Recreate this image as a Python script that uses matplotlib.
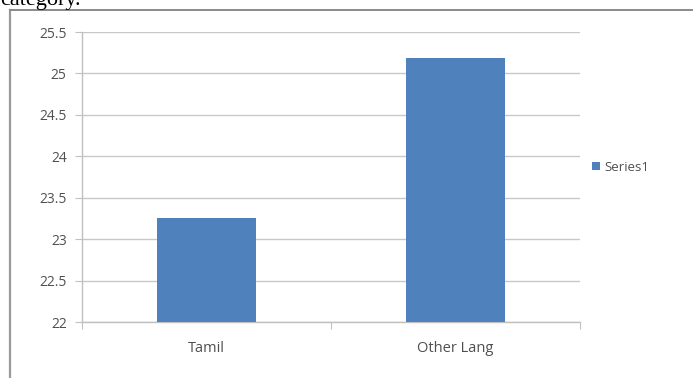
import matplotlib.pyplot as plt
from matplotlib.lines import Line2D

categories = ["Tamil", "Other Lang"]
values = [23.26, 25.19]
series_name = "Series1"
y_ticks = [22, 22.5, 23, 23.5, 24, 24.5, 25, 25.5]

W, H = 693, 378
fig = plt.figure(figsize=(W / 100, H / 100), dpi=100)
fig.patch.set_facecolor("white")

# page frame + caption text from the document above the chart (clipped like the screenshot)
fig.add_artist(Line2D([10 / W, 10 / W], [0, 1 - 10 / H], transform=fig.transFigure,
                      color="#9a9a9a", lw=1.6))
fig.add_artist(Line2D([10 / W, 1], [1 - 10 / H, 1 - 10 / H], transform=fig.transFigure,
                      color="#8a8a8a", lw=1.4))
fig.text(0 / W, 1 - 5 / H, "category.", family="Liberation Serif", fontsize=16,
         color="black", va="baseline", ha="left")

ax = fig.add_axes([82 / W, 1 - 322 / H, (580 - 82) / W, (322 - 32) / H])
x = range(len(categories))
ax.bar(x, values, width=0.4, color="#4F81BD", label=series_name, zorder=3)

ax.set_ylim(22, 25.5)
ax.set_xlim(-0.5, len(categories) - 0.5)
ax.set_yticks(y_ticks)
ax.set_yticklabels([f"{t:g}" for t in y_ticks])
ax.set_xticks([-0.5, 0.5, 1.5], minor=False)
ax.set_xticklabels([])
ax.set_xticks(list(x), minor=True)
ax.set_xticklabels(categories, minor=True)

ax.grid(axis="y", color="#c8c8c8", lw=1.0, zorder=0)
for s in ["top", "right"]:
    ax.spines[s].set_visible(False)
for s in ["left", "bottom"]:
    ax.spines[s].set_color("#c0c0c0")
    ax.spines[s].set_linewidth(1.0)

ax.tick_params(axis="y", which="major", length=5, color="#c0c0c0", labelsize=10,
               labelcolor="#505050", pad=6)
ax.tick_params(axis="x", which="major", length=5, color="#c0c0c0")
ax.tick_params(axis="x", which="minor", length=0, labelsize=10.5, labelcolor="#505050", pad=14)
for lbl in ax.get_yticklabels() + ax.get_xticklabels(minor=True):
    lbl.set_family("Open Sans")

ax.legend(loc="center left", bbox_to_anchor=(580 / W, 1 - 167 / H),
          bbox_transform=fig.transFigure, frameon=False, handlelength=0.6,
          handleheight=0.6, handletextpad=0.35, prop={"family": "Open Sans", "size": 9.5},
          labelcolor="#505050")

fig.savefig("out.png", dpi=100)
